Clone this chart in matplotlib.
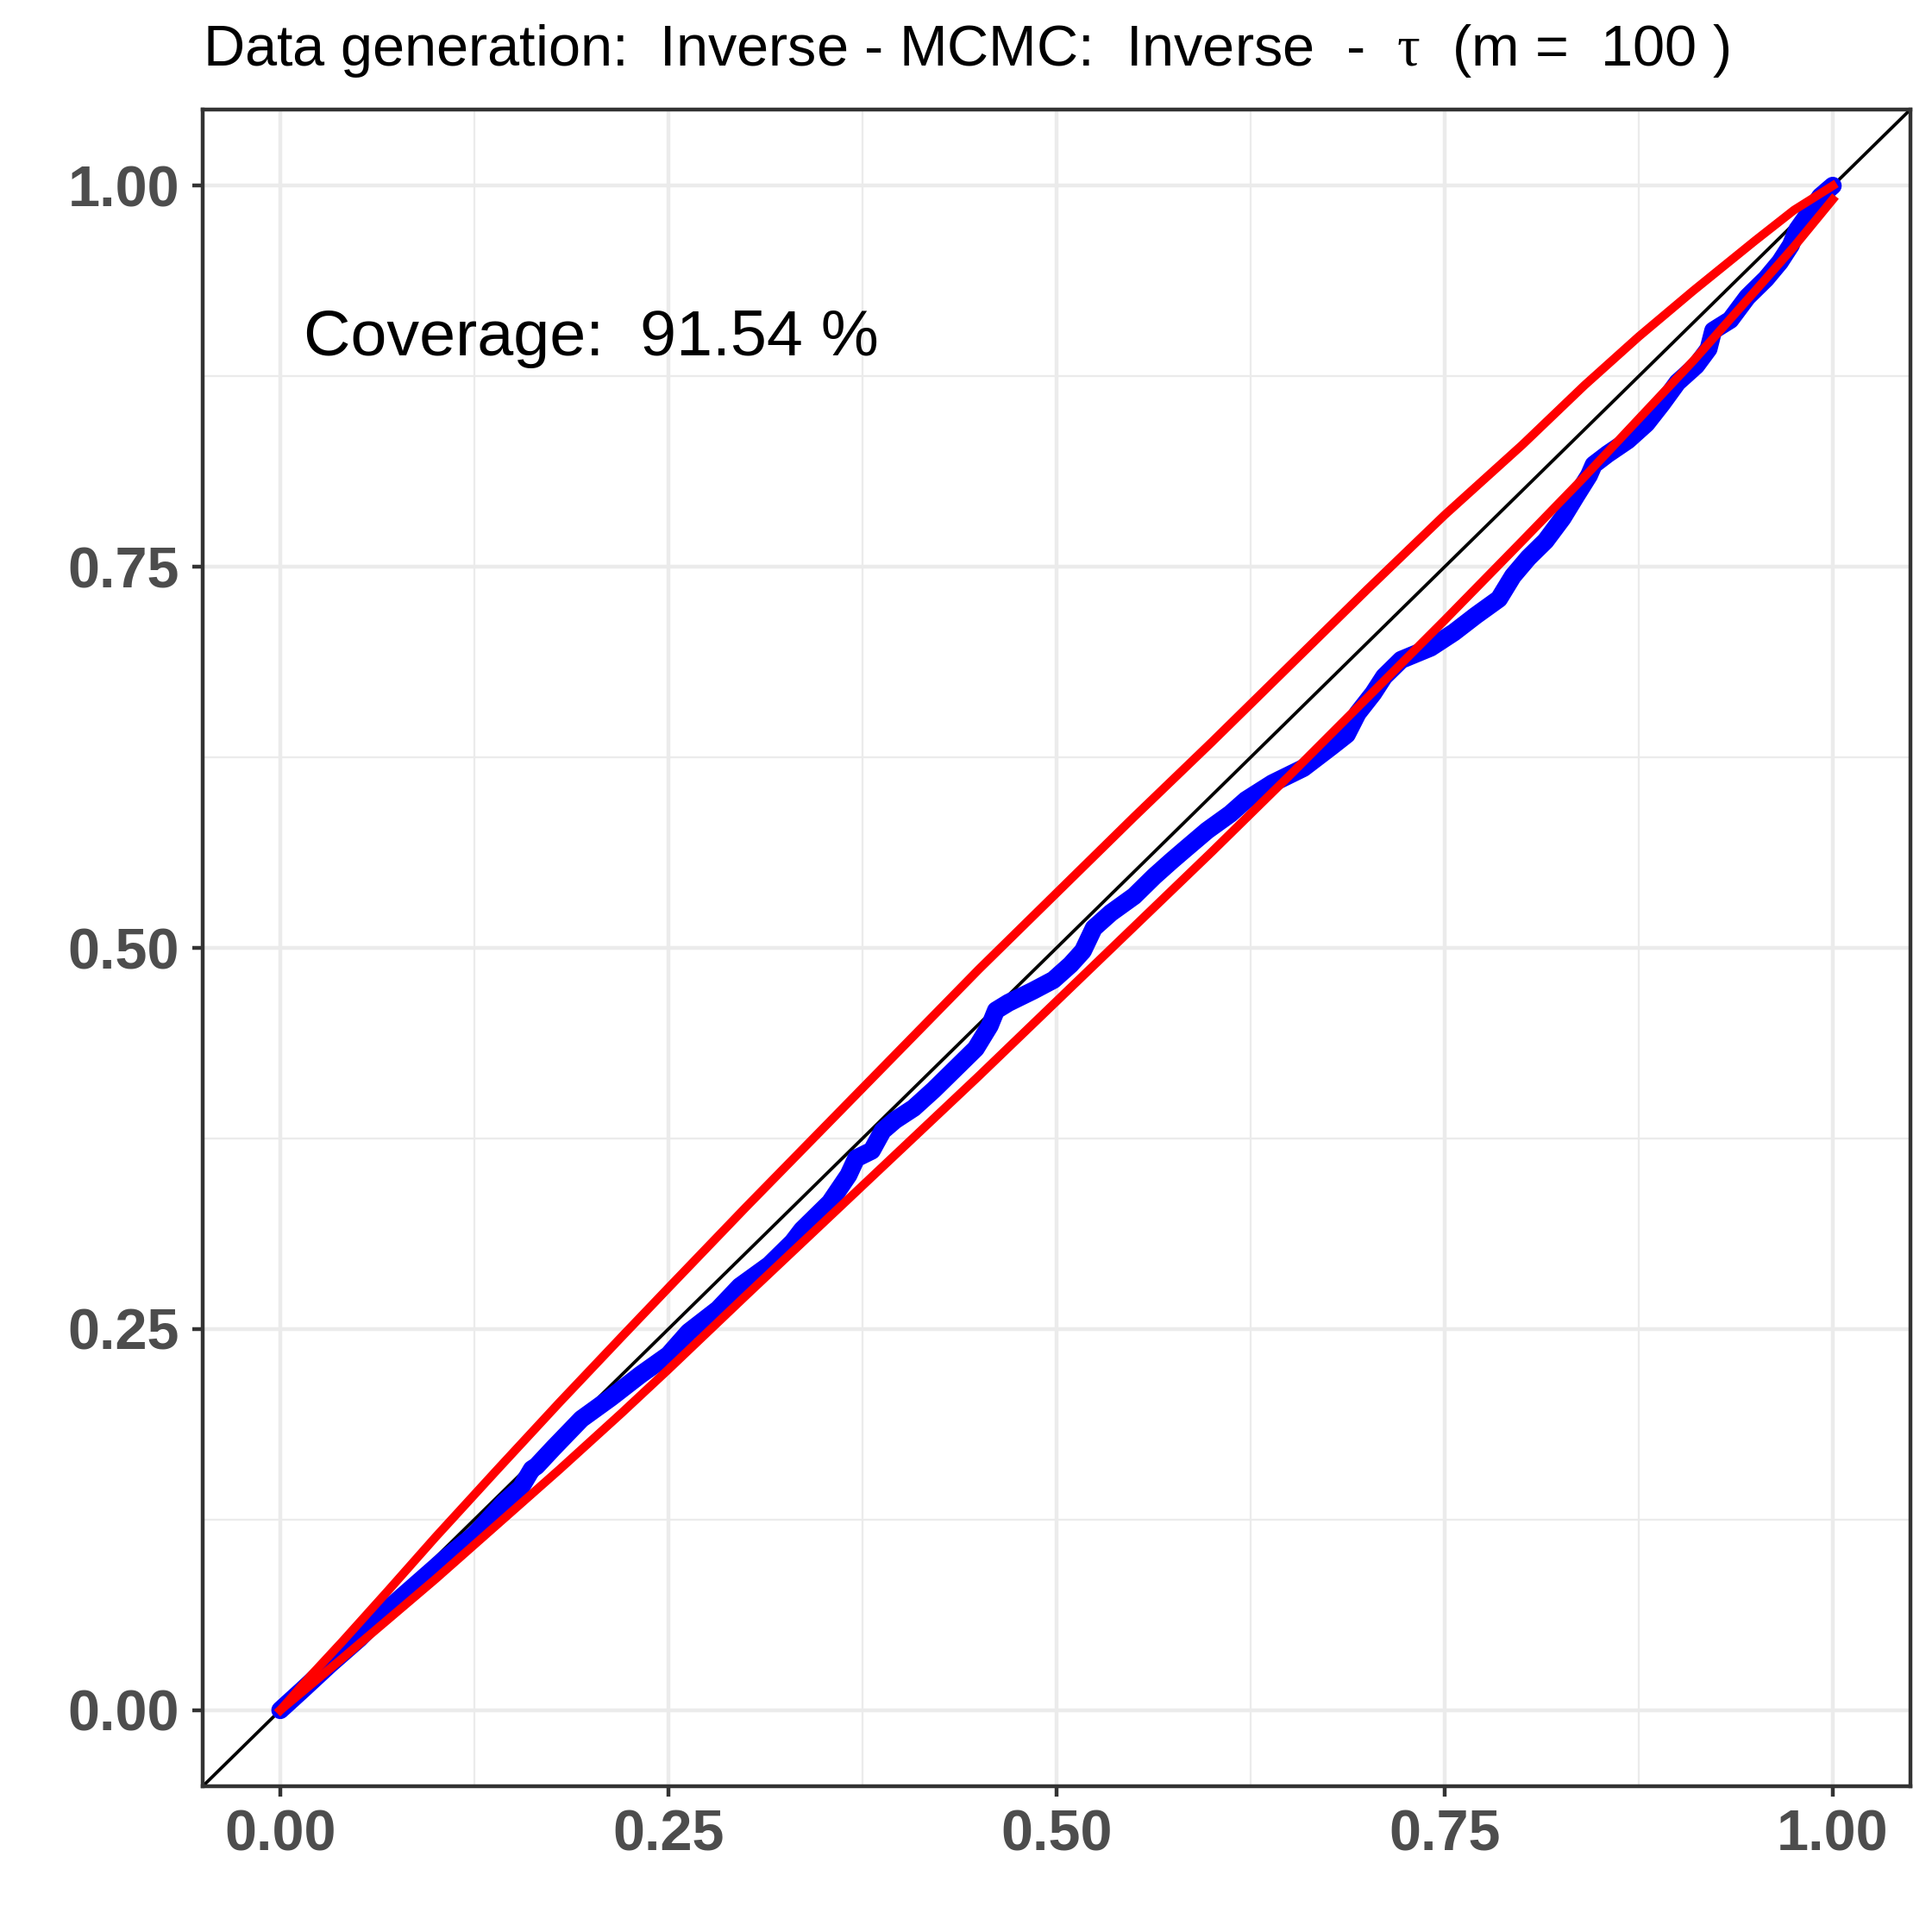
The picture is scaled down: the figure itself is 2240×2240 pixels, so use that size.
import matplotlib
matplotlib.use('Agg')
import matplotlib.pyplot as plt

plt.rcParams['font.family'] = ['Liberation Sans', 'DejaVu Sans']
plt.rcParams['mathtext.fontset'] = 'custom'
plt.rcParams['mathtext.rm'] = 'Liberation Serif'
plt.rcParams['mathtext.it'] = 'Liberation Serif:italic'

# empirical curve (blue points)
x_emp = [
    0.000, 0.014, 0.032, 0.051, 0.069, 0.088, 0.107, 0.125, 0.144, 0.155,
    0.162, 0.165, 0.176, 0.194, 0.213, 0.232, 0.250, 0.263, 0.282, 0.296,
    0.315, 0.330, 0.336, 0.354, 0.366, 0.371, 0.381, 0.388, 0.396, 0.408,
    0.421, 0.435, 0.448, 0.457, 0.461, 0.469, 0.485, 0.498, 0.509, 0.517,
    0.524, 0.535, 0.550, 0.563, 0.574, 0.582, 0.597, 0.612, 0.622, 0.639,
    0.659, 0.677, 0.687, 0.694, 0.704, 0.711, 0.722, 0.741, 0.756, 0.770,
    0.785, 0.794, 0.804, 0.815, 0.826, 0.835, 0.843, 0.846, 0.855, 0.868,
    0.880, 0.890, 0.900, 0.912, 0.920, 0.923, 0.934, 0.945, 0.957, 0.966,
    0.973, 0.977, 0.986, 0.992, 1.000]
y_emp = [
    0.000, 0.013, 0.030, 0.047, 0.066, 0.083, 0.100, 0.115, 0.136, 0.146,
    0.158, 0.160, 0.172, 0.191, 0.205, 0.220, 0.233, 0.248, 0.263, 0.278,
    0.292, 0.307, 0.315, 0.333, 0.351, 0.362, 0.367, 0.380, 0.387, 0.395,
    0.407, 0.421, 0.434, 0.449, 0.459, 0.464, 0.472, 0.479, 0.489, 0.498,
    0.513, 0.523, 0.534, 0.547, 0.557, 0.564, 0.577, 0.588, 0.597, 0.608,
    0.618, 0.632, 0.640, 0.654, 0.667, 0.678, 0.689, 0.697, 0.707, 0.718,
    0.729, 0.744, 0.756, 0.767, 0.782, 0.797, 0.810, 0.817, 0.824, 0.833,
    0.844, 0.857, 0.871, 0.882, 0.893, 0.905, 0.912, 0.927, 0.939, 0.950,
    0.961, 0.971, 0.984, 0.993, 1.000]

# confidence band (red lines)
x_band = [0.0, 0.02, 0.04, 0.07, 0.10, 0.14, 0.18, 0.22, 0.25, 0.30, 0.35, 0.40, 0.45,
          0.50, 0.55, 0.60, 0.65, 0.70, 0.75, 0.80, 0.84, 0.875, 0.91, 0.95, 0.975, 1.0]
y_upper = [0.000, 0.023, 0.045, 0.079, 0.1135, 0.158, 0.202, 0.245, 0.277, 0.330, 0.382, 0.434, 0.486,
           0.536, 0.586, 0.635, 0.685, 0.735, 0.784, 0.830, 0.869, 0.901, 0.931, 0.964, 0.984, 1.000]
y_lower = [0.000, 0.017, 0.034, 0.060, 0.086, 0.122, 0.158, 0.195, 0.2235, 0.272, 0.320, 0.368, 0.416,
           0.465, 0.514, 0.563, 0.613, 0.664, 0.715, 0.767, 0.809, 0.847, 0.885, 0.931, 0.960, 0.991]

major_ticks = [0.0, 0.25, 0.50, 0.75, 1.0]
tick_labels = ['0.00', '0.25', '0.50', '0.75', '1.00']
minor_ticks = [0.125, 0.375, 0.625, 0.875]

title = 'Data generation:  Inverse - MCMC:  Inverse  -  $\\mathrm{\\tau}$  (m =  100 )'
coverage = 'Coverage:  91.54 %'

fig = plt.figure(figsize=(2240 / 300, 2240 / 300), dpi=300)
ax = fig.add_axes([0.1049, 0.0754, 0.9888 - 0.1049, 0.9433 - 0.0754])

ax.axline((0, 0), (1, 1), color='black', lw=0.9, zorder=2)
ax.plot(x_emp, y_emp, color='#0000FF', lw=5.0, solid_capstyle='round',
        solid_joinstyle='round', zorder=3)
ax.plot(x_band, y_upper, color='#FF0000', lw=2.4, zorder=4)
ax.plot(x_band, y_lower, color='#FF0000', lw=2.4, zorder=4)

ax.text(0.2, 0.9, coverage, fontsize=18.1, ha='center', va='center', color='black')

ax.set_xlim(-0.05, 1.05)
ax.set_ylim(-0.05, 1.05)
ax.set_xticks(major_ticks)
ax.set_xticklabels(tick_labels)
ax.set_yticks(major_ticks)
ax.set_yticklabels(tick_labels)
ax.set_xticks(minor_ticks, minor=True)
ax.set_yticks(minor_ticks, minor=True)

ax.set_axisbelow(True)
ax.grid(True, which='major', color='#EBEBEB', lw=1.07)
ax.grid(True, which='minor', color='#EBEBEB', lw=0.55)
ax.tick_params(which='minor', length=0)
ax.tick_params(which='major', length=2.9, width=1.07, color='#333333',
               labelsize=16.0, labelcolor='#4D4D4D')
ax.tick_params(axis='x', pad=3.4)
ax.tick_params(axis='y', pad=3.6)
for lab in ax.get_xticklabels() + ax.get_yticklabels():
    lab.set_fontweight('bold')
for sp in ax.spines.values():
    sp.set_color('#333333')
    sp.set_linewidth(1.07)

fig.text(0.1049, 1 - 76 / 2240, title, fontsize=16, ha='left', va='baseline')

fig.savefig('out.png', dpi=300)
